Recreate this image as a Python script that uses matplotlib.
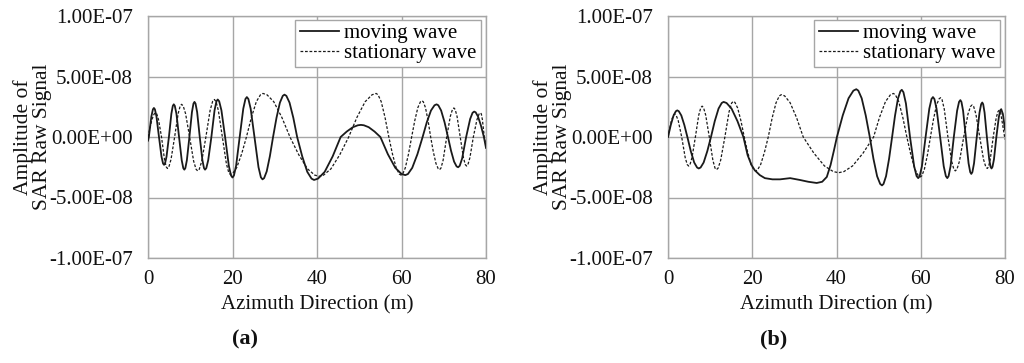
import matplotlib
matplotlib.use("Agg")
import matplotlib.pyplot as plt
import numpy as np

plt.rcParams["font.family"] = ["Liberation Serif", "DejaVu Serif"]

# ── Colours ───────────────────────────────────────────────────────────────────
LINE  = "#1A1A1A"
GRID  = "#A6A6A6"
TEXT  = "#111111"

SCALE = 1e-8   # the lists below are in units of 1e-8

# ── Panel (a): points ────────────────────────────────────────────────────────
a_moving_x = [0.0, 0.2, 0.8, 1.16, 1.4, 1.64, 2.0, 2.6, 3.2, 3.56, 3.8, 4.03,
              4.38, 4.95, 5.53, 5.87, 6.1, 6.35, 6.73, 7.35, 7.98, 8.35, 8.6,
              8.84, 9.2, 9.8, 10.4, 10.76, 11.0, 11.25, 11.63, 12.25, 12.88,
              13.25, 13.5, 13.8, 14.25, 15.0, 15.75, 16.2, 16.5, 16.85, 17.38,
              18.25, 19.13, 19.65, 20.0, 20.34, 20.85, 21.7, 22.55, 23.06, 23.4,
              23.76, 24.3, 25.2, 26.15, 26.72, 27.1, 27.48, 28.1, 28.85, 29.6,
              30.41, 31.22, 31.9, 32.3, 32.75, 33.5, 34.4, 35.3, 36.5, 37.7,
              38.7, 39.3, 40.24, 41.82, 43.71, 45.6, 47.04, 48.48, 49.68, 50.4,
              51.09, 52.24, 53.62, 55.0, 56.77, 58.54, 60.02, 60.9, 61.52, 62.54,
              63.77, 65.0, 65.99, 66.98, 67.81, 68.3, 68.71, 69.38, 70.19, 71.0,
              71.72, 72.44, 73.04, 73.4, 73.78, 74.35, 75.3, 76.25, 76.82, 77.2,
              77.55, 78.1, 78.8, 79.5, 80.0]
a_moving_y = [-0.3, 0.0, 1.7, 2.28, 2.4, 2.28, 1.7, 0.0, -1.63, -2.19, -2.3, -2.19,
              -1.63, 0.0, 1.92, 2.57, 2.7, 2.57, 1.92, 0.0, -1.92, -2.57, -2.7,
              -2.57, -1.92, 0.0, 2.06, 2.76, 2.9, 2.76, 2.06, 0.0, -1.92,
              -2.57, -2.7, -2.57, -1.92, 0.0, 2.2, 2.95, 3.1, 2.95, 2.2,
              0.0, -2.38, -3.18, -3.35, -3.18, -2.38, 0.0, 2.34, 3.14, 3.3,
              3.14, 2.34, 0.0, -2.49, -3.33, -3.5, -3.4, -2.84, -1.58, 0.0,
              1.58, 2.84, 3.4, 3.5, 3.4, 2.84, 1.58, 0.0, -1.6, -2.88,
              -3.44, -3.55, -3.44, -2.88, -1.6, 0.0, 0.45, 0.81, 0.97, 1.0,
              0.97, 0.81, 0.45, 0.0, -1.42, -2.55, -3.06, -3.15, -3.06, -2.55,
              -1.42, 0.0, 1.22, 2.19, 2.62, 2.7, 2.62, 2.19, 1.22, 0.0,
              -1.13, -2.03, -2.43, -2.5, -2.38, -1.78, 0.0, 1.49, 2.0, 2.1,
              2.04, 1.7, 0.95, 0.0, -0.9]

a_stat_x = [0.0, 0.9, 1.44, 1.8, 2.08, 2.5, 3.2, 3.9, 4.32, 4.6, 4.94, 5.45, 6.3,
            7.13, 7.62, 7.95, 8.33, 8.9, 9.85, 10.8, 11.37, 11.75, 12.14, 12.73,
            13.7, 14.7, 15.3, 15.7, 16.08, 16.65, 17.6, 18.55, 19.12, 19.5,
            20.07, 21.02, 22.16, 23.3, 24.47, 25.64, 26.62, 27.2, 28.16, 29.76,
            31.68, 33.6, 35.67, 37.74, 39.47, 40.5, 41.55, 43.3, 45.4, 47.5,
            49.45, 51.4, 53.03, 54.0, 54.45, 55.2, 56.1, 57.0, 57.87, 58.74,
            59.47, 59.9, 60.28, 60.9, 61.65, 62.4, 63.14, 63.87, 64.48, 64.85,
            65.16, 65.67, 66.29, 66.9, 67.53, 68.16, 68.69, 69.0, 69.34, 69.85,
            70.7, 71.55, 72.06, 72.4, 72.7, 73.15, 73.9, 74.65, 75.1, 75.4,
            75.72, 76.2, 77.0, 77.85, 78.36, 78.7, 78.9, 79.15, 79.6, 80.0]
a_stat_y = [0.0, 1.42, 1.9, 2.0, 1.9, 1.42, 0.0, -1.85, -2.47, -2.6, -2.47, -1.85, 0.0,
            1.92, 2.57, 2.7, 2.57, 1.92, 0.0, -1.99, -2.66, -2.8, -2.66, -1.99,
            0.0, 2.2, 2.95, 3.1, 2.95, 2.2, 0.0, -2.2, -2.95, -3.1,
            -3.0, -2.51, -1.4, 0.0, 1.62, 2.92, 3.49, 3.6, 3.49, 2.92,
            1.62, 0.0, -1.46, -2.63, -3.15, -3.25, -3.15, -2.63, -1.46, 0.0,
            1.62, 2.92, 3.49, 3.6, 3.49, 2.92, 1.62, 0.0, -1.42, -2.55,
            -3.06, -3.15, -3.06, -2.55, -1.42, 0.0, 1.35, 2.43, 2.91, 3.0,
            2.91, 2.43, 1.35, 0.0, -1.22, -2.19, -2.62, -2.7, -2.57, -1.92,
            0.0, 1.7, 2.28, 2.4, 2.28, 1.7, 0.0, -1.7, -2.28, -2.4,
            -2.28, -1.7, 0.0, 1.42, 1.9, 2.0, 1.9, 1.42, 0.0, -0.8]

# ── Panel (b) ─────────────────────────────────────────────────────────────────
b_moving_x = [0.0, 0.66, 1.32, 1.87, 2.2, 2.56, 3.16, 3.88, 4.6, 5.41, 6.22, 6.9,
              7.3, 7.74, 8.46, 9.33, 10.2, 11.1, 12.0, 12.75, 13.2, 13.9, 15.08,
              16.49, 17.9, 18.9, 19.8, 20.6, 21.8, 23.0, 24.8, 26.6, 29.0, 31.3,
              33.3, 35.3, 36.6, 37.7, 38.6, 39.4, 40.1, 41.48, 42.86, 44.01,
              44.7, 45.18, 45.98, 46.94, 47.9, 48.77, 49.64, 50.37, 50.8, 51.16,
              51.76, 52.48, 53.2, 53.89, 54.58, 55.16, 55.5, 55.89, 56.48, 57.45,
              58.43, 59.01, 59.4, 59.75, 60.28, 61.15, 62.03, 62.55, 62.9, 63.24,
              63.75, 64.6, 65.45, 65.96, 66.3, 66.61, 67.08, 67.85, 68.63, 69.09,
              69.4, 69.66, 70.05, 70.7, 71.35, 71.74, 72.0, 72.26, 72.65, 73.3,
              73.95, 74.34, 74.6, 74.82, 75.15, 75.7, 76.25, 76.58, 76.8, 77.03,
              77.38, 77.95, 78.53, 78.87, 79.1, 79.5, 80.0]
b_moving_y = [0.0, 0.99, 1.78, 2.13, 2.2, 2.13, 1.78, 0.99, 0.0, -1.17, -2.11, -2.52,
              -2.6, -2.52, -2.11, -1.17, 0.0, 1.31, 2.35, 2.81, 2.9, 2.81, 2.35,
              1.31, 0.0, -1.5, -2.3, -2.75, -3.15, -3.4, -3.5, -3.5, -3.4, -3.55,
              -3.7, -3.8, -3.7, -3.3, -2.3, -1.1, 0.0, 1.78, 3.2, 3.83,
              3.95, 3.83, 3.2, 1.78, 0.0, -1.8, -3.24, -3.88, -4.0, -3.88,
              -3.24, -1.8, 0.0, 1.76, 3.16, 3.78, 3.9, 3.7, 2.77, 0.0,
              -2.41, -3.23, -3.4, -3.23, -2.41, 0.0, 2.34, 3.14, 3.3, 3.14,
              2.34, 0.0, -2.41, -3.23, -3.4, -3.23, -2.41, 0.0, 2.17, 2.9,
              3.05, 2.9, 2.17, 0.0, -2.17, -2.9, -3.05, -2.9, -2.17, 0.0,
              2.02, 2.71, 2.85, 2.71, 2.02, 0.0, -1.85, -2.47, -2.6, -2.47,
              -1.85, 0.0, 1.63, 2.19, 2.3, 1.9, 0.6]

b_stat_x = [0.0, 0.8, 1.28, 1.6, 1.93, 2.43, 3.25, 4.08, 4.57, 4.9, 5.22, 5.7, 6.5,
            7.3, 7.78, 8.1, 8.44, 8.95, 9.8, 10.65, 11.16, 11.5, 11.9, 12.5,
            13.5, 14.5, 15.1, 15.5, 15.89, 16.54, 17.32, 18.1, 18.91, 19.72,
            20.4, 20.8, 21.25, 22.0, 22.9, 23.8, 24.73, 25.66, 26.44, 26.9,
            27.68, 28.98, 30.54, 32.1, 34.62, 37.14, 39.24, 40.5, 41.75, 43.82,
            46.31, 48.8, 50.21, 51.62, 52.8, 53.5, 53.98, 54.78, 55.74, 56.7,
            57.66, 58.62, 59.42, 59.9, 60.26, 60.86, 61.58, 62.3, 63.02, 63.74,
            64.34, 64.7, 65.05, 65.58, 66.45, 67.33, 67.85, 68.2, 68.6, 69.2,
            70.2, 71.2, 71.8, 72.2, 72.56, 73.1, 74.0, 74.9, 75.44, 75.8,
            76.08, 76.5, 77.2, 77.9, 78.32, 78.6, 78.95, 79.4, 80.0]
b_stat_y = [0.0, 1.35, 1.8, 1.9, 1.8, 1.35, 0.0, -1.7, -2.28, -2.4, -2.28, -1.7, 0.0,
            1.81, 2.42, 2.55, 2.42, 1.81, 0.0, -1.92, -2.57, -2.7, -2.57, -1.92,
            0.0, 2.09, 2.8, 2.95, 2.86, 2.39, 1.33, 0.0, -1.26, -2.27,
            -2.72, -2.8, -2.72, -2.27, -1.26, 0.0, 1.58, 2.84, 3.4, 3.5,
            3.4, 2.84, 1.58, 0.0, -1.33, -2.39, -2.86, -2.95, -2.86, -2.39,
            -1.33, 0.0, 1.62, 2.92, 3.49, 3.6, 3.49, 2.92, 1.62, 0.0,
            -1.49, -2.67, -3.2, -3.3, -3.2, -2.67, -1.49, 0.0, 1.46, 2.63,
            3.15, 3.25, 3.09, 2.31, 0.0, -1.99, -2.66, -2.8, -2.66, -1.99,
            0.0, 1.88, 2.52, 2.65, 2.52, 1.88, 0.0, -1.85, -2.47, -2.6,
            -2.47, -1.85, 0.0, 1.56, 2.09, 2.2, 2.05, 1.1, -0.2]

y_ticks = [-1e-7, -5e-8, 0.0, 5e-8, 1e-7]
y_ticklabels = ["-1.00E-07", "-5.00E-08", "0.00E+00", "5.00E-08", "1.00E-07"]
x_ticks = [0, 20, 40, 60, 80]


def draw_panel(ax, mx, my, sx, sy):
    ax.plot(mx, np.array(my) * SCALE, color=LINE, linewidth=1.3,
            label="moving wave", zorder=3, solid_joinstyle="round")
    ax.plot(sx, np.array(sy) * SCALE, color=LINE, linewidth=0.9,
            linestyle=(0, (2.2, 1.4)), label="stationary wave", zorder=3)

    ax.set_xlim(0, 80)
    ax.set_ylim(-1e-7, 1e-7)
    ax.set_xticks(x_ticks)
    ax.set_yticks(y_ticks)
    ax.set_yticklabels(y_ticklabels)
    ax.grid(True, color=GRID, linewidth=1.0, zorder=0)
    ax.set_axisbelow(True)
    for spine in ax.spines.values():
        spine.set_edgecolor(GRID)
        spine.set_linewidth(1.0)
    ax.tick_params(length=0, labelsize=15, colors=TEXT)
    ax.tick_params(axis="y", pad=11)
    ax.tick_params(axis="x", pad=9)

    ax.set_xlabel("Azimuth Direction (m)", fontsize=15, color=TEXT)
    ax.xaxis.set_label_coords(0.5, -0.155)
    ax.set_ylabel("Amplitude of\nSAR Raw Signal", fontsize=15.5, color=TEXT,
                  linespacing=1.0)
    ax.yaxis.set_label_coords(-0.285, 0.5)

    leg = ax.legend(loc="upper right", bbox_to_anchor=(0.985, 0.985),
                    fontsize=15, frameon=True, fancybox=False, framealpha=1,
                    handlelength=1.9, handletextpad=0.25, labelspacing=0.0,
                    borderpad=0.2, borderaxespad=0.0)
    leg.get_frame().set_edgecolor(GRID)
    leg.get_frame().set_linewidth(1.0)


fig = plt.figure(figsize=(10.24, 3.63), dpi=100, facecolor="white")
ax_a = fig.add_axes([148 / 1024, 1 - 258 / 363, 338 / 1024, 242 / 363])
ax_b = fig.add_axes([668 / 1024, 1 - 258 / 363, 337 / 1024, 242 / 363])

draw_panel(ax_a, a_moving_x, a_moving_y, a_stat_x, a_stat_y)
draw_panel(ax_b, b_moving_x, b_moving_y, b_stat_x, b_stat_y)

fig.text(245 / 1024, 1 - 339 / 363, "(a)", fontsize=16, fontweight="bold",
         ha="center", va="center", color=TEXT)
fig.text(774 / 1024, 1 - 339 / 363, "(b)", fontsize=16, fontweight="bold",
         ha="center", va="center", color=TEXT)

fig.savefig("out.png", dpi=100, facecolor="white")
plt.close(fig)
